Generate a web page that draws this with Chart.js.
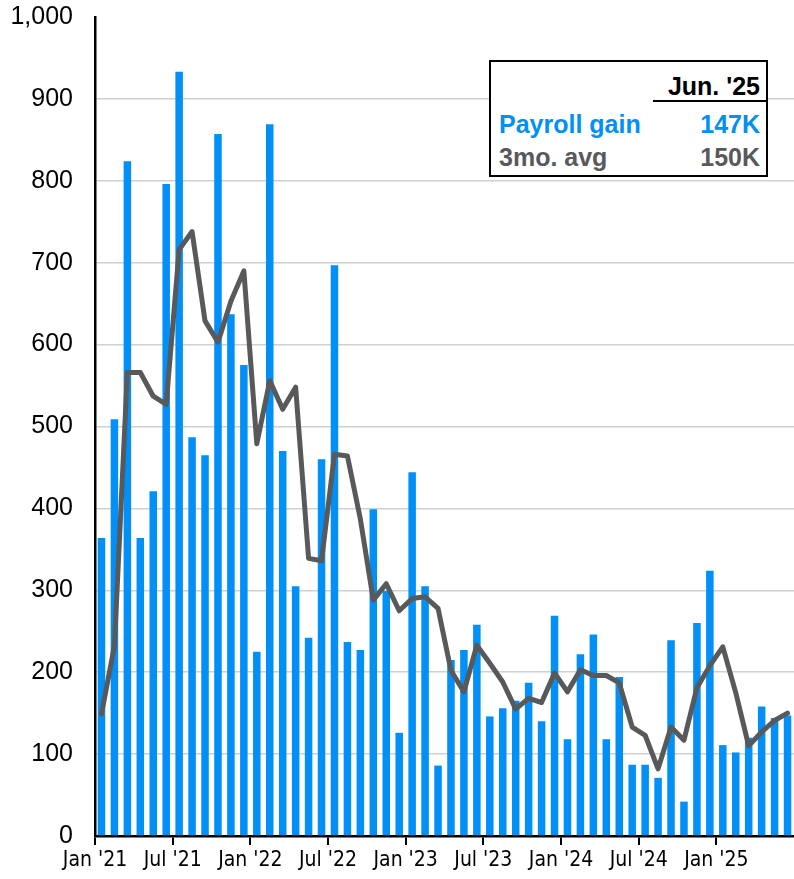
<!DOCTYPE html>
<html>
<head>
<meta charset="utf-8">
<script src="https://cdn.jsdelivr.net/npm/chart.js@4.4.1/dist/chart.umd.min.js"></script>
<style>
  body { margin: 0; background: #fff; }
  #wrap { position: relative; width: 794px; height: 879px; }
  #box {
    position: absolute; left: 489px; top: 60px; width: 275px; height: 113px;
    border: 2px solid #000; background: #fff;
    font-family: 'Liberation Sans', Arial, sans-serif; font-weight: bold; font-size: 25px;
  }
  #box div { position: absolute; line-height: 30px; white-space: nowrap; }
  .r { right: 6px; text-align: right; }
  .l { left: 8px; }
  .blue { color: #0090f7; }
  .gray { color: #58595b; }
  #rule { position: absolute; left: 162px; right: 0; top: 38px; height: 2px; background: #000; }
</style>
</head>
<body>
<div id="wrap">
  <canvas id="chart" width="794" height="879"></canvas>
  <div id="box">
    <div class="r" id="hdr" style="top:9px; color:#000;"></div>
    <div id="rule"></div>
    <div class="l blue" style="top:47px;">Payroll gain</div>
    <div class="r blue" id="v1" style="top:47px;"></div>
    <div class="l gray" style="top:80px;">3mo. avg</div>
    <div class="r gray" id="v2" style="top:80px;"></div>
  </div>
</div>
<script>
// 월별 라벨 (Jan '21 ~ Jun '25)
const months = [
  "Jan '21","Feb '21","Mar '21","Apr '21","May '21","Jun '21","Jul '21","Aug '21","Sep '21","Oct '21","Nov '21","Dec '21",
  "Jan '22","Feb '22","Mar '22","Apr '22","May '22","Jun '22","Jul '22","Aug '22","Sep '22","Oct '22","Nov '22","Dec '22",
  "Jan '23","Feb '23","Mar '23","Apr '23","May '23","Jun '23","Jul '23","Aug '23","Sep '23","Oct '23","Nov '23","Dec '23",
  "Jan '24","Feb '24","Mar '24","Apr '24","May '24","Jun '24","Jul '24","Aug '24","Sep '24","Oct '24","Nov '24","Dec '24",
  "Jan '25","Feb '25","Mar '25","Apr '25","May '25","Jun '25"
];

// x축에 보이는 라벨 (6개월 간격)
const tickLabels = ["Jan '21","Jul '21","Jan '22","Jul '22","Jan '23","Jul '23","Jan '24","Jul '24","Jan '25"];

// 월별 고용 증가 (천 명)
const payrollGain = [
  364, 509, 824, 364, 421, 796, 933, 487, 465, 857, 637, 575,
  225, 869, 470, 305, 242, 460, 697, 237, 227, 399, 299, 126,
  444, 305, 86, 215, 227, 258, 146, 156, 165, 187, 140, 269,
  118, 222, 246, 118, 194, 87, 87, 71, 239, 42, 260, 324,
  111, 102, 120, 158, 144, 147
];

// 3개월 평균
const avg3mo = [
  149, 232, 566, 566, 537, 527, 716, 738, 629, 603, 653, 690,
  479, 556, 521, 548, 339, 336, 466, 464, 387, 288, 308, 275,
  290, 292, 278, 202, 176, 233, 211, 188, 155, 168, 163, 199,
  176, 203, 196, 196, 187, 133, 123, 82, 133, 117, 181, 208,
  231, 175, 110, 127, 141, 150
];

const yTicks = [0, 100, 200, 300, 400, 500, 600, 700, 800, 900, 1000];

const BLUE = '#0090f7';
const GRAY = '#58595b';
const catW = (794 - 95) / months.length;

// 범례 박스 텍스트
document.getElementById('hdr').textContent = "Jun. '25";
document.getElementById('v1').textContent = payrollGain[payrollGain.length - 1] + 'K';
document.getElementById('v2').textContent = avg3mo[avg3mo.length - 1] + 'K';

const ctx = document.getElementById('chart').getContext('2d');

new Chart(ctx, {
  type: 'bar',
  data: {
    labels: months,
    datasets: [
      {
        type: 'line',
        label: '3mo. avg',
        data: avg3mo,
        borderColor: GRAY,
        borderWidth: 5,
        borderJoinStyle: 'round',
        borderCapStyle: 'round',
        pointRadius: 0,
        tension: 0,
        fill: false,
        order: 0
      },
      {
        label: 'Payroll gain',
        data: payrollGain,
        backgroundColor: BLUE,
        barPercentage: 0.58,
        categoryPercentage: 1,
        order: 1
      }
    ]
  },
  options: {
    responsive: false,
    animation: false,
    layout: { padding: { top: 17, right: 0, left: 0, bottom: 0 } },
    plugins: {
      legend: { display: false },
      tooltip: { enabled: false }
    },
    scales: {
      x: {
        offset: true,
        grid: {
          offset: true,
          drawOnChartArea: false,
          tickLength: 9,
          lineWidth: 2,
          tickColor: c => (c.index < months.length && c.index % 6 === 0) ? '#000' : 'rgba(0,0,0,0)'
        },
        border: { display: true, color: '#000', width: 2.5 },
        ticks: {
          autoSkip: false,
          maxRotation: 0,
          minRotation: 0,
          padding: 3,
          labelOffset: -catW / 2,
          color: '#000',
          font: { family: "'Liberation Sans Narrow', 'DejaVu Sans Condensed', Arial, sans-serif", size: 21 },
          callback: (v, i) => (i % 6 === 0 ? tickLabels[i / 6] || '' : '')
        },
        afterFit: s => { s.height = 43; s.paddingLeft = 0; s.paddingRight = 0; }
      },
      y: {
        min: 0,
        max: 1000,
        afterBuildTicks: s => { s.ticks = yTicks.map(v => ({ value: v })); },
        grid: {
          color: c => (c.tick && c.tick.value === 1000) ? 'rgba(0,0,0,0)' : '#d0d0d0',
          lineWidth: 1.5,
          drawTicks: false
        },
        border: { display: true, color: '#000', width: 2.5 },
        ticks: {
          padding: 22,
          color: '#000',
          font: { family: "'Liberation Sans', Arial, sans-serif", size: 25 },
          callback: v => v.toLocaleString('en-US')
        },
        afterFit: s => { s.width = 95; s.paddingTop = 0; s.paddingBottom = 0; }
      }
    }
  }
});
</script>
</body>
</html>
